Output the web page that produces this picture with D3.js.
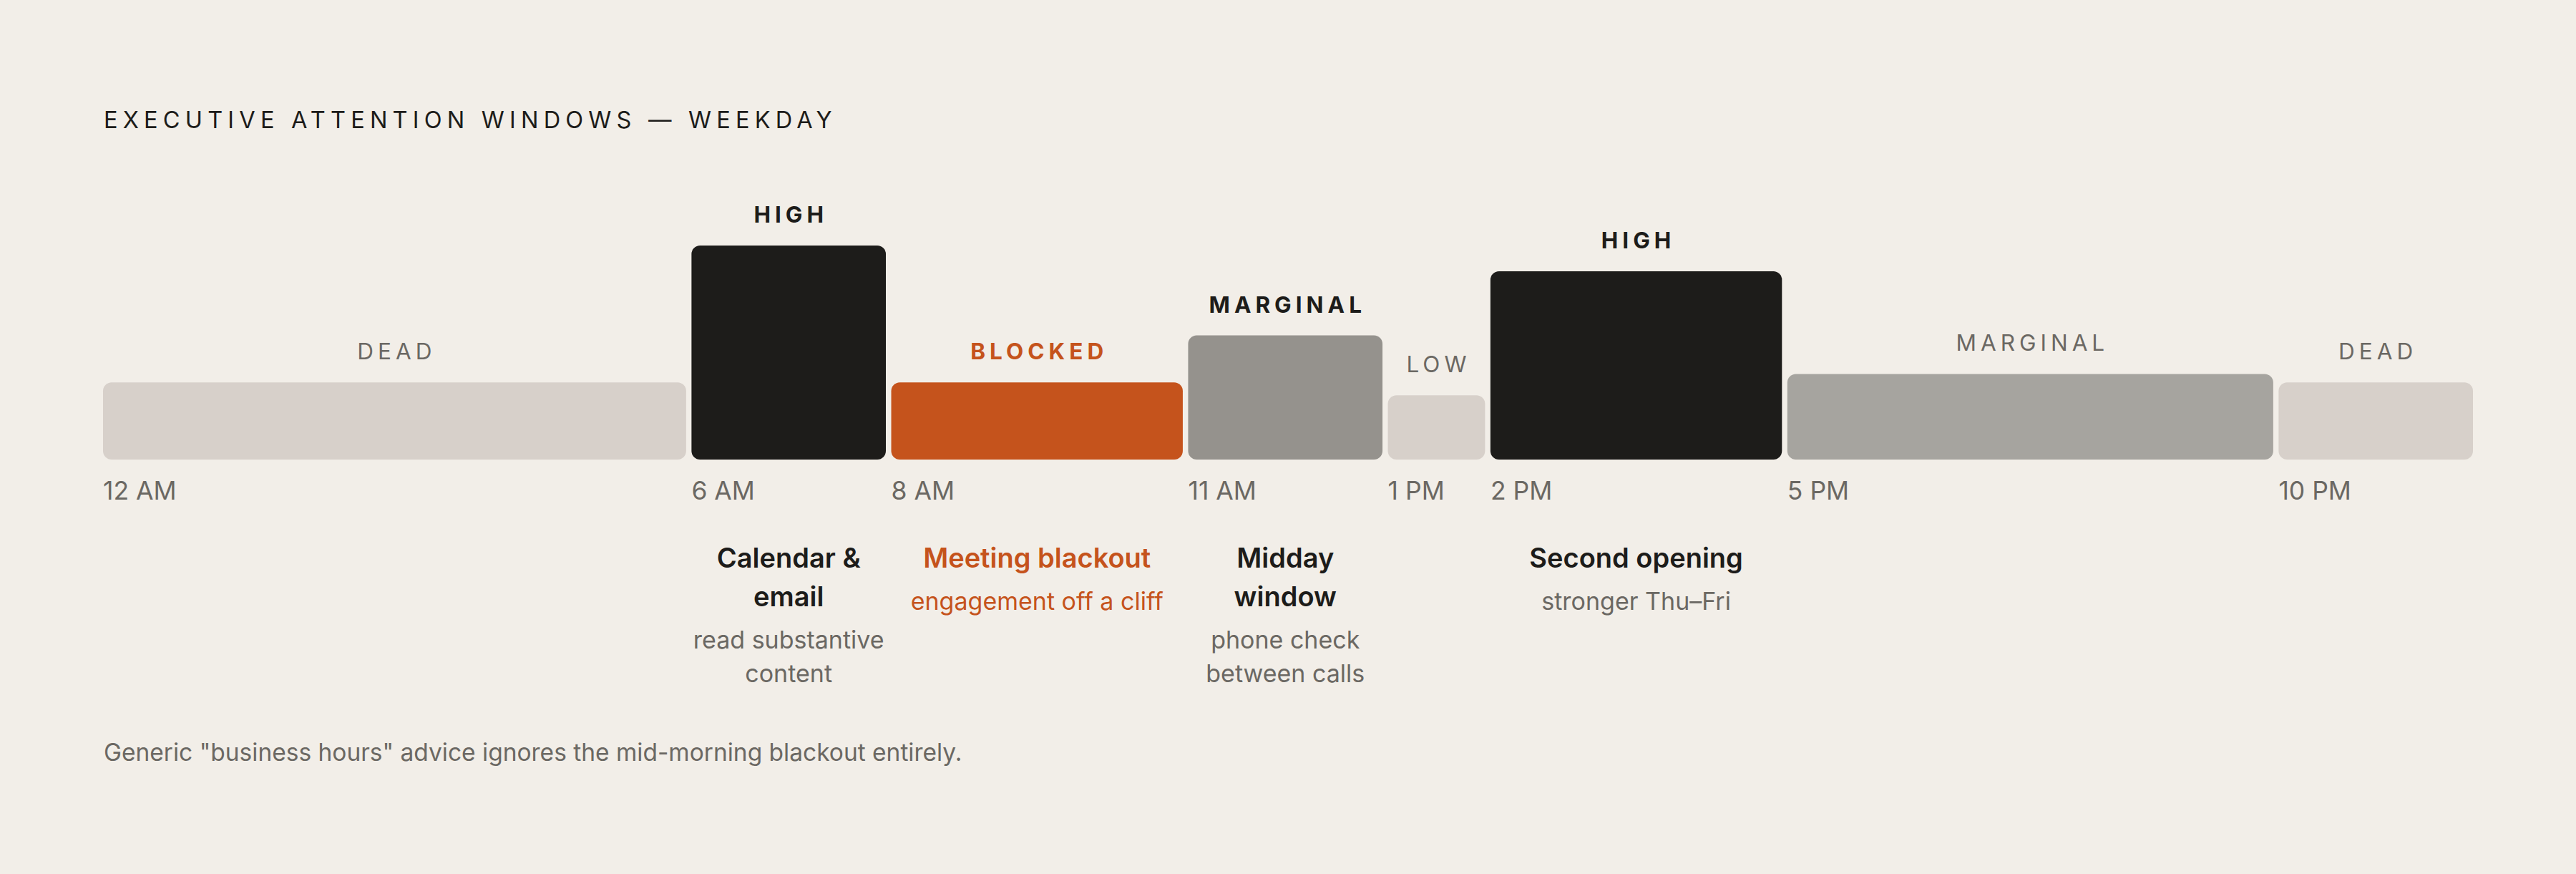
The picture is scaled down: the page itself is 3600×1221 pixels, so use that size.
<!DOCTYPE html>
<html lang="en">
<head>
<meta charset="UTF-8">
<title>Executive attention windows</title>
<script src="https://d3js.org/d3.v7.min.js"></script>
<style>
  html, body { margin: 0; padding: 0; background: #f2eee8; }
  svg { display: block; font-family: Inter, "DejaVu Sans", sans-serif; }
</style>
</head>
<body>
<svg id="chart" width="3600" height="1221"></svg>
<script>
// windows across a weekday (hours from midnight)
const starts = [0, 6, 8, 11, 13, 14, 17, 22];
const ends = [6, 8, 11, 13, 14, 17, 22, 24];
const levels = ["DEAD", "HIGH", "BLOCKED", "MARGINAL", "LOW", "HIGH", "MARGINAL", "DEAD"];
const scores = [36, 100, 36, 58, 30, 88, 40, 36];
const tickLabels = ["12 AM", "6 AM", "8 AM", "11 AM", "1 PM", "2 PM", "5 PM", "10 PM"];
const kinds = ["dead", "high", "blocked", "marginalStrong", "dead", "high", "marginal", "dead"];

// notes under some of the windows: index of window, title lines, sub lines
const noteIndex = [1, 2, 3, 5];
const noteTitles = [["Calendar &", "email"], ["Meeting blackout"], ["Midday", "window"], ["Second opening"]];
const noteSubs = [["read substantive", "content"], ["engagement off a cliff"], ["phone check", "between calls"], ["stronger Thu\u2013Fri"]];

const fills = { dead: "#d7d0ca", high: "#1d1c1a", blocked: "#c5531c", marginalStrong: "#95928d", marginal: "#a6a49f" };
const labelColor = { dead: "#6b6863", high: "#1d1c1a", blocked: "#c5531c", marginalStrong: "#1d1c1a", marginal: "#6b6863" };
const labelWeight = { dead: 400, high: 700, blocked: 700, marginalStrong: 700, marginal: 400 };

const svg = d3.select("#chart");
const gap = 7.5;
const left = 144, right = 3456, base = 642;

const x = d3.scaleLinear().domain([0, 24]).range([left, right - gap * (starts.length - 1)]);
const y = d3.scaleLinear().domain([0, 100]).range([base, 343]);

const bars = starts.map((s, i) => ({
  i, start: s, end: ends[i], level: levels[i], score: scores[i], kind: kinds[i],
  x0: x(s) + i * gap, w: x(ends[i]) - x(s)
}));

svg.append("text")
  .attr("x", 145).attr("y", 179)
  .attr("font-size", 32.5).attr("letter-spacing", "7.2px")
  .attr("fill", "#1d1c1a")
  .text("EXECUTIVE ATTENTION WINDOWS \u2014 WEEKDAY");

svg.selectAll("rect.bar").data(bars).join("rect")
  .attr("class", "bar")
  .attr("x", d => d.x0).attr("width", d => d.w)
  .attr("y", d => y(d.score)).attr("height", d => base - y(d.score))
  .attr("rx", 12).attr("ry", 12)
  .attr("fill", d => fills[d.kind]);

const ls = 6;
svg.selectAll("text.level").data(bars).join("text")
  .attr("class", "level")
  .attr("x", d => d.x0 + d.w / 2 + ls / 2).attr("y", d => y(d.score) - 32)
  .attr("text-anchor", "middle")
  .attr("font-size", 31.5).attr("letter-spacing", ls + "px")
  .attr("font-weight", d => labelWeight[d.kind])
  .attr("fill", d => labelColor[d.kind])
  .text(d => d.level);

svg.selectAll("text.tick").data(bars).join("text")
  .attr("class", "tick")
  .attr("x", d => d.x0).attr("y", 698)
  .attr("font-size", 35.5).attr("fill", "#6b6863")
  .text(d => tickLabels[d.i]);

noteIndex.forEach((bi, k) => {
  const b = bars[bi];
  const cx = b.x0 + b.w / 2;
  const isBlocked = b.kind === "blocked";
  const g = svg.append("g").attr("text-anchor", "middle");
  noteTitles[k].forEach((line, j) => {
    g.append("text")
      .attr("x", cx).attr("y", 793 + j * 54)
      .attr("font-size", 38).attr("font-weight", 600)
      .attr("fill", isBlocked ? "#c5531c" : "#1d1c1a")
      .text(line);
  });
  const subTop = 793 + (noteTitles[k].length - 1) * 54 + 59;
  noteSubs[k].forEach((line, j) => {
    g.append("text")
      .attr("x", cx).attr("y", subTop + j * 47)
      .attr("font-size", 34)
      .attr("fill", isBlocked ? "#c5531c" : "#6b6863")
      .text(line);
  });
});

svg.append("text")
  .attr("x", 145).attr("y", 1063)
  .attr("font-size", 33.5).attr("fill", "#6b6863")
  .text('Generic "business hours" advice ignores the mid-morning blackout entirely.');
</script>
</body>
</html>
